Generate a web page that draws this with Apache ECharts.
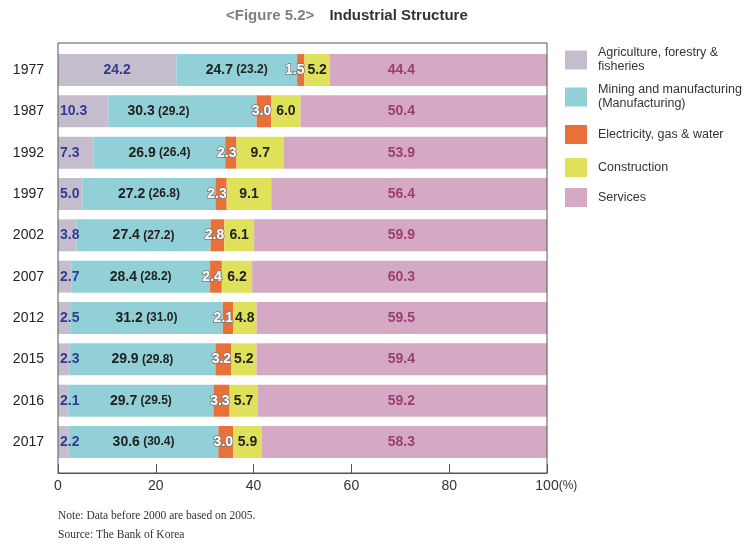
<!DOCTYPE html>
<html>
<head>
<meta charset="utf-8">
<script src="https://cdn.jsdelivr.net/npm/echarts@6/dist/echarts.min.js"></script>
<style>html,body{margin:0;padding:0;background:#fff}#c{width:750px;height:546px}</style>
</head>
<body>
<div id="c"></div>
<script>
var years = ['1977','1987','1992','1997','2002','2007','2012','2015','2016','2017'];
var agriculture = [24.2, 10.3, 7.3, 5.0, 3.8, 2.7, 2.5, 2.3, 2.1, 2.2];
var mining = [24.7, 30.3, 26.9, 27.2, 27.4, 28.4, 31.2, 29.9, 29.7, 30.6];
var manufacturing = [23.2, 29.2, 26.4, 26.8, 27.2, 28.2, 31.0, 29.8, 29.5, 30.4];
var electricity = [1.5, 3.0, 2.3, 2.3, 2.8, 2.4, 2.1, 3.2, 3.3, 3.0];
var construction = [5.2, 6.0, 9.7, 9.1, 6.1, 6.2, 4.8, 5.2, 5.7, 5.9];
var services = [44.4, 50.4, 53.9, 56.4, 59.9, 60.3, 59.5, 59.4, 59.2, 58.3];
var seriesNames = ['Agriculture', 'Mining', 'Electricity', 'Construction', 'Services'];
var legendLabels = ['Agriculture, forestry &\nfisheries', 'Mining and manufacturing\n(Manufacturing)', 'Electricity, gas & water', 'Construction', 'Services'];
var xTicks = [0, 20, 40, 60, 80, 100];

var colors = ['#c5bdce', '#91d0d6', '#e8713a', '#e0e15a', '#d5a8c4'];
var FONT = '"Liberation Sans", Arial, sans-serif';

var chart = echarts.init(document.getElementById('c'));

function fmt(v) { return v.toFixed(1); }

var agriData = agriculture.map(function (v, i) {
  return {
    value: v,
    label: i === 0 ? { position: 'inside' } : { position: 'insideLeft', distance: 2 }
  };
});
var miningData = mining.map(function (v, i) {
  var d = { value: v };
  if (i === 1) d.label = { offset: [-24, 0] };
  return d;
});

var legendTops = [46, 83, 125, 158, 188];
var legends = seriesNames.map(function (n, i) {
  return {
    data: [n],
    left: 565,
    top: legendTops[i],
    padding: 0,
    orient: 'vertical',
    icon: 'rect',
    itemWidth: 22,
    itemHeight: 19,
    itemGap: 11,
    selectedMode: false,
    formatter: function (name) { return legendLabels[seriesNames.indexOf(name)]; },
    textStyle: { fontFamily: FONT, fontSize: 12.5, color: '#333', lineHeight: 14, padding: [0, 0, 0, 6] }
  };
});

var option = {
  animation: false,
  backgroundColor: '#fff',
  color: colors,
  title: [
    {
      text: '{a|<Figure 5.2>}   {b|Industrial Structure}',
      left: 226, top: 7, padding: 0,
      textStyle: {
        rich: {
          a: { fontFamily: FONT, fontSize: 15, fontWeight: 'bold', color: '#808080' },
          b: { fontFamily: FONT, fontSize: 15, fontWeight: 'bold', color: '#333' }
        }
      }
    },
    {
      text: 'Note: Data before 2000 are based on 2005.',
      left: 58, top: 510, padding: 0,
      textStyle: { fontFamily: '"Liberation Serif", "Times New Roman", serif', fontSize: 11.5, fontWeight: 'normal', color: '#333' }
    },
    {
      text: 'Source: The Bank of Korea',
      left: 58, top: 529, padding: 0,
      textStyle: { fontFamily: '"Liberation Serif", "Times New Roman", serif', fontSize: 11.5, fontWeight: 'normal', color: '#333' }
    }
  ],
  legend: legends,
  grid: [
    { left: 58, right: 203, top: 49.3, bottom: 83.3, containLabel: false },
    { left: 58, right: 203, top: 43, bottom: 73, show: true, borderColor: '#555', borderWidth: 1, backgroundColor: 'transparent', z: 10 }
  ],
  xAxis: [
    { gridIndex: 0, type: 'value', min: 0, max: 100, show: false },
    {
      gridIndex: 1, type: 'value', min: 0, max: 100, interval: 20,
      axisLine: { show: true, lineStyle: { color: '#555', width: 1 } },
      axisTick: { show: true, inside: true, length: 9, lineStyle: { color: '#555' } },
      splitLine: { show: false },
      axisLabel: {
        margin: 6,
        fontFamily: FONT, fontSize: 14, color: '#333',
        formatter: function (v) { return v === 100 ? '{h|(%)}100{p|(%)}' : String(v); },
        rich: {
          h: { fontFamily: FONT, fontSize: 12, color: 'transparent' },
          p: { fontFamily: FONT, fontSize: 12, color: '#333' }
        }
      }
    }
  ],
  yAxis: [
    {
      gridIndex: 0, type: 'category', data: years, inverse: true,
      axisLine: { show: false }, axisTick: { show: false },
      axisLabel: { margin: 14, fontFamily: FONT, fontSize: 14, color: '#222' }
    },
    { gridIndex: 1, type: 'value', show: false, min: 0, max: 1 }
  ],
  series: [
    {
      name: seriesNames[0], type: 'bar', stack: 'total', barWidth: 32, data: agriData,
      label: {
        show: true, formatter: function (p) { return fmt(p.value); },
        fontFamily: FONT, fontSize: 14, fontWeight: 'bold', color: '#313d92'
      }
    },
    {
      name: seriesNames[1], type: 'bar', stack: 'total', barWidth: 32, data: miningData,
      label: {
        show: true, position: 'inside',
        formatter: function (p) { return '{m|' + fmt(p.value) + '} {s|(' + fmt(manufacturing[p.dataIndex]) + ')}'; },
        rich: {
          m: { fontFamily: FONT, fontSize: 14, fontWeight: 'bold', color: '#222' },
          s: { fontFamily: FONT, fontSize: 12, fontWeight: 'bold', color: '#222' }
        }
      }
    },
    {
      name: seriesNames[2], type: 'bar', stack: 'total', barWidth: 32, data: electricity,
      label: {
        show: true, position: 'insideRight', distance: 0,
        formatter: function (p) { return fmt(p.value); },
        fontFamily: FONT, fontSize: 14, fontWeight: 'bold', color: '#fff',
        textBorderColor: '#7a7a7a', textBorderWidth: 1.6
      }
    },
    {
      name: seriesNames[3], type: 'bar', stack: 'total', barWidth: 32, data: construction,
      label: {
        show: true, position: 'inside',
        formatter: function (p) { return fmt(p.value); },
        fontFamily: FONT, fontSize: 14, fontWeight: 'bold', color: '#222'
      }
    },
    {
      name: seriesNames[4], type: 'bar', stack: 'total', barWidth: 32, data: services,
      label: {
        show: true, position: 'insideRight', distance: 132,
        formatter: function (p) { return fmt(p.value); },
        fontFamily: FONT, fontSize: 14, fontWeight: 'bold', color: '#9b3f70'
      }
    }
  ]
};
chart.setOption(option);
</script>
</body>
</html>
